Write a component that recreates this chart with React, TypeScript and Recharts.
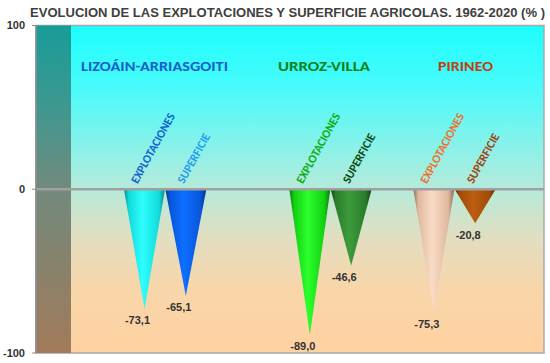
import React from "react";
import {
  BarChart,
  Bar,
  XAxis,
  YAxis,
  ReferenceLine,
  LabelList,
  usePlotArea,
} from "recharts";

const TITULO =
  "EVOLUCION DE LAS EXPLOTACIONES Y SUPERFICIE AGRICOLAS. 1962-2020  (% )";

const zonas = ["LIZOÁIN-ARRIASGOITI", "URROZ-VILLA", "PIRINEO"];
const explotaciones = [-73.1, -89.0, -75.3];
const superficie = [-65.1, -46.6, -20.8];
const series = ["EXPLOTACIONES", "SUPERFICIE"];
const yTicks = [-100, 0, 100];

// hueco del eje: en qué posición empieza cada zona (9 posiciones en total)
const inicioZona = [0, 4, 7];
const NUM_POS = 9;

// colores: [oscuro, medio, brillante]
const colExp = [
  ["#0a8686", "#10dcdc", "#30fdfd"],
  ["#0a780a", "#12d012", "#2cff2c"],
  ["#8a6a5a", "#dfb89e", "#fadcc6"],
];
const colSup = [
  ["#04348a", "#0856dc", "#0c70ff"],
  ["#173f17", "#2a7c2a", "#3c9c3c"],
  ["#552805", "#a24a08", "#bc5e12"],
];
const txtExp = ["#1462cc", "#10ac10", "#f0702a"];
const txtSup = ["#239df0", "#0f4a12", "#a2420c"];
const txtZona = ["#1a5ec8", "#10801a", "#c0400e"];
const zonaX = [81, 278, 438];
const zonaW = [147, 92, 55];

type Fila = {
  slot: string;
  valor: number | null;
  zona: number;
  serie: number;
};

const tabla: Fila[] = Array.from({ length: NUM_POS }, (_, i) => ({
  slot: `p${i}`,
  valor: null,
  zona: -1,
  serie: -1,
}));
zonas.forEach((_, z) => {
  const p = inicioZona[z];
  tabla[p] = { slot: `p${p}`, valor: explotaciones[z], zona: z, serie: 0 };
  tabla[p + 1] = { slot: `p${p + 1}`, valor: superficie[z], zona: z, serie: 1 };
});

const porSlot = (s: any): Fila | undefined => tabla.find((f) => f.slot === s);

const colores = (f: Fila) => (f.serie === 0 ? colExp : colSup)[f.zona];

const fmt = (v: number) => v.toFixed(1).replace(".", ",");

const Cono = (props: any) => {
  const { x, y, width, height, payload } = props;
  const f = porSlot(payload?.slot);
  if (!f || f.valor == null) return null;
  const top = Math.min(y, y + height);
  const bottom = Math.max(y, y + height);
  const cx = x + width / 2;
  return (
    <path
      d={`M${x},${top} L${x + width},${top} L${cx},${bottom} Z`}
      fill={`url(#cono-${f.slot})`}
    />
  );
};

const caja = (props: any) => {
  const vb = props.viewBox && props.viewBox.width != null ? props.viewBox : props;
  const { x, y, width, height } = vb;
  return {
    cx: x + width / 2,
    top: Math.min(y, y + height),
    bottom: Math.max(y, y + height),
  };
};

const EtiquetaSerie = (props: any) => {
  const f = porSlot(props.value);
  if (!f || f.valor == null) return null;
  const { cx, top } = caja(props);
  const x0 = cx + (f.serie === 0 ? -7 : -2);
  const y0 = top - 5;
  return (
    <text
      transform={`translate(${x0},${y0}) rotate(-61)`}
      fontFamily="Carlito, Calibri, 'Open Sans', sans-serif"
      fontSize={12}
      fontWeight="bold"
      textLength={f.serie === 0 ? 78 : 55}
      lengthAdjust="spacingAndGlyphs"
      fill={(f.serie === 0 ? txtExp : txtSup)[f.zona]}
    >
      {series[f.serie]}
    </text>
  );
};

const EtiquetaValor = (props: any) => {
  const f = porSlot(props.value);
  if (!f || f.valor == null) return null;
  const { cx, bottom } = caja(props);
  return (
    <text
      x={cx - 7}
      y={bottom + 15.5}
      textAnchor="middle"
      fontFamily="'Liberation Sans', Arial, sans-serif"
      fontSize={11}
      fontWeight="bold"
      fill="#333333"
    >
      {fmt(f.valor)}
    </text>
  );
};

function Fondo() {
  const area = usePlotArea();
  if (!area) return null;
  return (
    <g>
      <rect
        x={area.x}
        y={area.y}
        width={area.width}
        height={area.height}
        fill="url(#fondo)"
        stroke="#a8a8a8"
        strokeWidth={1.5}
      />
      <rect
        x={area.x}
        y={area.y}
        width={35}
        height={area.height}
        fill="url(#pared)"
      />
    </g>
  );
}

export default function App() {
  return (
    <div style={{ position: "absolute", left: 0, top: 0, background: "#fff" }}>
      <BarChart
        width={550}
        height={363}
        data={tabla}
        margin={{ top: 25.5, right: 6, bottom: 10, left: 0 }}
        barCategoryGap={0}
        barGap={0}
      >
        <defs>
          <linearGradient id="fondo" x1="0" y1="0" x2="0" y2="1">
            <stop offset="0" stopColor="#1cfefe" />
            <stop offset="0.2" stopColor="#4cfafa" />
            <stop offset="0.4" stopColor="#94f0e6" />
            <stop offset="0.5" stopColor="#b6eada" />
            <stop offset="0.65" stopColor="#e2dec0" />
            <stop offset="0.8" stopColor="#f8d6aa" />
            <stop offset="1" stopColor="#ffd2a0" />
          </linearGradient>
          <linearGradient id="pared" x1="0" y1="0" x2="0" y2="1">
            <stop offset="0" stopColor="#189c98" />
            <stop offset="0.25" stopColor="#3e9890" />
            <stop offset="0.5" stopColor="#728a7c" />
            <stop offset="1" stopColor="#a27a5a" />
          </linearGradient>
          {tabla.map((f) =>
            f.valor == null ? null : (
              <linearGradient key={f.slot} id={`cono-${f.slot}`} x1="0" y1="0" x2="1" y2="0">
                <stop offset="0" stopColor={colores(f)[0]} />
                <stop offset="0.12" stopColor={colores(f)[1]} />
                <stop offset="0.45" stopColor={colores(f)[2]} />
                <stop offset="0.85" stopColor={colores(f)[1]} />
                <stop offset="1" stopColor={colores(f)[0]} />
              </linearGradient>
            )
          )}
        </defs>
        <Fondo />
        <XAxis
          dataKey="slot"
          hide
          padding={{ left: 88, right: 48 }}
        />
        <YAxis
          width={36}
          domain={[-100, 100]}
          ticks={yTicks}
          interval={0}
          tickSize={4}
          tickMargin={7}
          axisLine={{ stroke: "#8c8c8c", strokeWidth: 1.5 }}
          tickLine={{ stroke: "#8c8c8c" }}
          tick={{
            fontFamily: "'Liberation Sans', Arial, sans-serif",
            fontSize: 11,
            fontWeight: "bold",
            fill: "#333333",
          }}
        />
        <ReferenceLine y={0} stroke="#a0a0a0" strokeWidth={2.5} />
        <Bar dataKey="valor" shape={<Cono />} isAnimationActive={false}>
          <LabelList dataKey="slot" content={<EtiquetaSerie />} />
          <LabelList dataKey="slot" content={<EtiquetaValor />} />
        </Bar>
        <text
          x={30}
          y={16.5}
          fontFamily="'Liberation Sans', Arial, sans-serif"
          fontSize={12}
          fontWeight="bold"
          fill="#404040"
          textLength={515}
          lengthAdjust="spacingAndGlyphs"
        >
          {TITULO}
        </text>
        {zonas.map((z, i) => (
          <text
            key={z}
            x={zonaX[i]}
            y={70.5}
            fontFamily="Carlito, Calibri, 'Open Sans', sans-serif"
            fontSize={14}
            fontWeight="bold"
            fill={txtZona[i]}
            textLength={zonaW[i]}
            lengthAdjust="spacingAndGlyphs"
          >
            {z}
          </text>
        ))}
      </BarChart>
    </div>
  );
}
